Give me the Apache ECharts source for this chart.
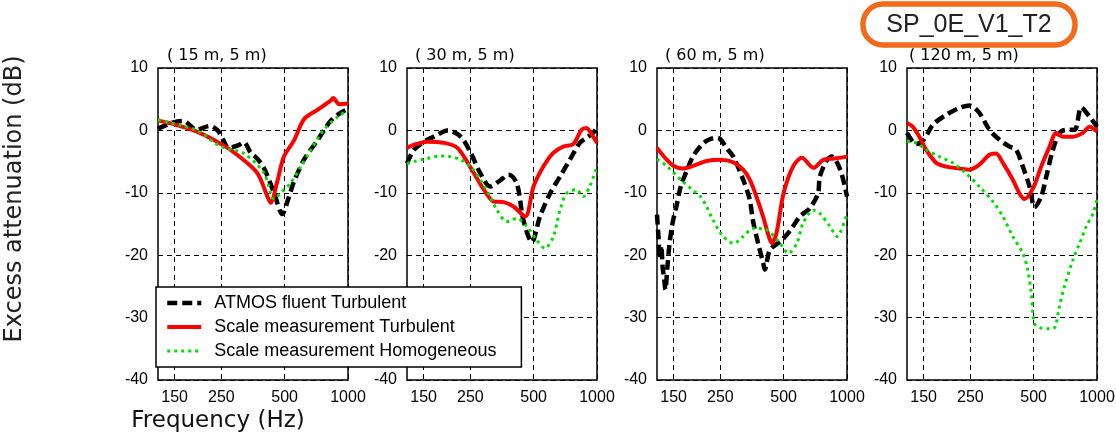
<!DOCTYPE html>
<html><head><meta charset="utf-8">
<script src="https://cdn.jsdelivr.net/npm/echarts@6/dist/echarts.min.js"></script>
<style>html,body{margin:0;padding:0;background:#fff}#c{width:1116px;height:436px}</style>
</head><body><div id="c"></div><script>
// ---- data ----
const freqTicks = [150, 250, 500, 1000];
const dbMin = -40, dbMax = 10, dbStep = 10;
const panelTitles = ['( 15 m, 5 m)', '( 30 m, 5 m)', '( 60 m, 5 m)', '( 120 m, 5 m)'];
const seriesNames = ['ATMOS fluent Turbulent', 'Scale measurement Turbulent', 'Scale measurement Homogeneous'];
const caseLabel = 'SP_0E_V1_T2';

// panel 1 (15 m, 5 m)
const atmos15 = [[125,0.3],[148,1.3],[165,1.5],[191,0.1],[220,0.7],[240,0],[255,-1.5],[270,-2.8],[300,-2.4],[320,-1.9],[345,-3.6],[370,-4.5],[398,-6],[445,-10],[487,-13.4],[520,-11],[551,-8.4],[618,-4.7],[716,-1.6],[830,1.6],[930,2.9],[1000,3.4]];
const turb15 = [[125,1.6],[148,1.0],[191,-0.2],[250,-2.2],[297,-3.9],[370,-6.8],[413,-10.5],[429,-11.6],[461,-8.2],[496,-4.2],[554,-1.6],[618,1.8],[716,3.3],[830,4.8],[850,5.2],[909,4.2],[1000,4.3]];
const homog15 = [[125,1.7],[159,0.8],[191,0],[250,-2.6],[320,-3.7],[398,-6.8],[445,-11],[480,-10],[534,-8.4],[596,-5.8],[664,-3.2],[764,0],[887,2.1],[1000,3.2]];

// panel 2 (30 m, 5 m)
const atmos30 = [[125,-5.3],[135,-3.1],[156,-1.5],[168,-1],[195,0],[225,-1],[251,-3.6],[279,-6.9],[311,-9],[347,-8],[380,-7.1],[416,-8.5],[447,-14.4],[490,-17.9],[536,-13.8],[598,-10.1],[667,-7.4],[743,-4.7],[829,-2],[891,-1.2],[958,-0.4],[1000,0.4]];
const turb30 = [[125,-2.8],[135,-2.3],[156,-1.8],[188,-2],[217,-2.8],[251,-6],[290,-9.5],[323,-11.4],[360,-11.5],[401,-12.2],[456,-13.8],[499,-9],[556,-5.8],[620,-3.6],[691,-2.6],[771,-2.2],[844,0.1],[891,0.4],[958,-1],[1000,-2]];
const homog30 = [[125,-5.3],[135,-5],[156,-4.5],[181,-4.1],[202,-4.2],[225,-4.7],[251,-5.8],[279,-7.9],[311,-10.6],[335,-12.8],[373,-14.6],[416,-14.1],[464,-15.4],[517,-17.6],[566,-18.9],[620,-17],[667,-12.8],[717,-10.1],[799,-9.5],[859,-10.6],[923,-9],[1000,-5.8]];

// panel 3 (60 m, 5 m)
const atmos60 = [[125,-13.5],[127,-17],[129,-20.5],[131,-18.5],[133,-22],[135,-23.5],[137,-25.5],[140,-22],[143,-18.5],[147,-15.5],[150,-14],[155,-12],[162,-9],[174,-6.3],[185,-4.2],[204,-2.3],[220,-1.5],[240,-1.2],[250,-1.4],[270,-3],[288,-4.2],[321,-7.9],[345,-11.1],[357,-14.4],[378,-18.1],[400,-21.3],[407,-22.3],[430,-19.2],[489,-17.6],[538,-16],[597,-13.8],[665,-12.5],[728,-10.1],[743,-7.4],[804,-4.7],[847,-4.2],[929,-6.3],[1000,-10.6]];
const turb60 = [[125,-2.8],[139,-4.7],[150,-5.7],[166,-6.1],[185,-5.7],[215,-4.9],[250,-4.7],[288,-5.1],[321,-6.3],[345,-7.9],[371,-10.6],[399,-13.8],[425,-17],[439,-18.1],[462,-16.5],[500,-10],[554,-5.8],[610,-4.4],[693,-6],[772,-4.7],[870,-4.5],[1000,-4.2]];
const homog60 = [[125,-4.6],[139,-5.7],[162,-7.9],[185,-9.6],[200,-10.5],[215,-12.2],[231,-14.4],[258,-17],[289,-18.1],[321,-17],[359,-15.7],[414,-15.9],[480,-18.1],[527,-19.7],[578,-18.1],[618,-14.9],[693,-12.8],[743,-13.3],[830,-15.4],[896,-17],[1000,-13.3]];

// panel 4 (120 m, 5 m)
const atmos120 = [[125,-0.4],[138,-2.2],[150,-1.5],[166,0.9],[192,2.5],[222,3.6],[248,4],[276,2.8],[308,0.1],[344,-1.5],[384,-2.6],[413,-3.1],[444,-5.8],[478,-9],[505,-12.3],[543,-10.6],[574,-7.4],[617,-3.1],[664,-0.4],[714,0.1],[783,0.1],[842,3.7],[922,2.2],[1000,0.6]];
const turb120 = [[125,1.2],[133,0.6],[143,-1],[154,-3.1],[172,-5.2],[192,-5.8],[222,-6.1],[248,-6.3],[276,-5.5],[308,-3.9],[331,-3.7],[357,-5.2],[398,-7.9],[428,-10.1],[452,-11],[496,-9.3],[543,-5.8],[595,-2.6],[640,-0.4],[688,-1],[768,-1],[857,-0.4],[922,0.6],[1000,-0.2]];
const homog120 = [[125,-1.8],[138,-2],[154,-3.1],[178,-4.2],[206,-5.2],[239,-6.9],[276,-9],[320,-11.4],[357,-13.8],[398,-17],[444,-19.7],[469,-22.4],[487,-26.1],[496,-29.4],[505,-31],[530,-31.6],[600,-31.8],[632,-31.5],[660,-28.5],[700,-25],[768,-20.8],[827,-18.1],[889,-15.4],[957,-13.3],[1000,-11.1]];

const panelData = [
  [atmos15, turb15, homog15],
  [atmos30, turb30, homog30],
  [atmos60, turb60, homog60],
  [atmos120, turb120, homog120]
];

// ---- layout / style ----
const panelLefts = [158, 407, 657, 907];
const titleOffsets = [9, 8, 8, 2];
const PW = 190, PT = 68, PH = 312;
const tickFont = 'Liberation Sans';
const lineStyles = [
  {color: '#000', width: 4.5, type: [10, 5], cap: 'butt'},
  {color: '#ff0000', width: 4, type: 'solid'},
  {color: '#00e000', width: 3, type: [3, 4], cap: 'butt'}
];

const grids = [], xAxes = [], yAxes = [], series = [];
panelLefts.forEach((l, i) => {
  grids.push({left: l, top: PT, width: PW, height: PH, show: true, borderColor: '#000', borderWidth: 1.5,
              backgroundColor: 'transparent', outerBoundsMode: 'none'});
  xAxes.push({type: 'log', logBase: 2, gridIndex: i, min: 125, max: 1000,
    axisLine: {show: false},
    axisTick: {show: false, customValues: freqTicks},
    axisLabel: {customValues: freqTicks, fontFamily: tickFont, fontSize: 16, color: '#000', margin: 10,
                formatter: v => String(Math.round(v))},
    splitLine: {show: true, lineStyle: {color: '#000', type: [5, 4], width: 1}}
  });
  yAxes.push({type: 'value', gridIndex: i, min: dbMin, max: dbMax, interval: dbStep,
    axisLine: {show: false}, axisTick: {show: false},
    axisLabel: {fontFamily: tickFont, fontSize: 16, color: '#000', margin: 10},
    splitLine: {show: true, lineStyle: {color: '#000', type: [5, 4], width: 1}}
  });
  panelData[i].forEach((d, k) => {
    series.push({name: seriesNames[k], type: 'line', xAxisIndex: i, yAxisIndex: i, data: d,
      symbol: 'none', showSymbol: false, smooth: 0.3, z: 2 + k,
      lineStyle: lineStyles[k], itemStyle: {color: lineStyles[k].color}, animation: false});
  });
});

const graphics = [
  {type: 'text', x: 15, y: 199, rotation: Math.PI / 2,
   style: {text: 'Excess attenuation (dB)', font: '24px "DejaVu Sans"', fill: '#222', align: 'center', verticalAlign: 'middle'}},
  {type: 'text', x: 218, y: 421,
   style: {text: 'Frequency (Hz)', font: '23px "DejaVu Sans"', fill: '#111', align: 'center', verticalAlign: 'middle'}},
  {type: 'rect', shape: {x: 863, y: 4, width: 212, height: 41, r: 20},
   style: {fill: 'none', stroke: '#f26b1d', lineWidth: 5.5}},
  {type: 'text', x: 969, y: 25,
   style: {text: caseLabel, font: '25px "Liberation Sans"', fill: '#222', align: 'center', verticalAlign: 'middle'}}
];
panelTitles.forEach((t, i) => {
  graphics.push({type: 'text', x: panelLefts[i] + titleOffsets[i], y: 56,
    style: {text: t, font: '16px "DejaVu Sans"', fill: '#000', align: 'left', verticalAlign: 'middle'}});
});

const chart = echarts.init(document.getElementById('c'));
chart.setOption({
  backgroundColor: '#fff',
  animation: false,
  grid: grids, xAxis: xAxes, yAxis: yAxes, series: series,
  legend: {
    data: seriesNames.map((n, k) => ({name: n,
      lineStyle: {width: lineStyles[k].width, type: lineStyles[k].type, color: lineStyles[k].color}})),
    orient: 'vertical', left: 156, top: 287,
    padding: [6, 25, 6, 9], itemWidth: 34, itemHeight: 14, itemGap: 4,
    backgroundColor: '#fff', borderColor: '#000', borderWidth: 1.5, borderRadius: 0,
    selectedMode: false, z: 20,
    itemStyle: {opacity: 0, borderWidth: 0},
    textStyle: {fontFamily: tickFont, fontSize: 18, color: '#000', lineHeight: 20, padding: [0, 0, 0, 8]}
  },
  graphic: graphics
});
</script></body></html>
